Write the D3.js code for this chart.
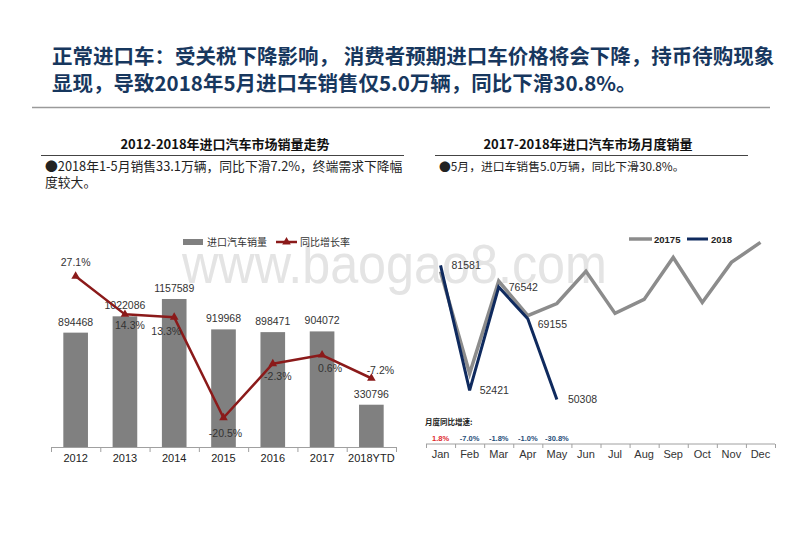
<!DOCTYPE html>
<html><head><meta charset="utf-8">
<script src="https://cdn.jsdelivr.net/npm/d3@7"></script>
<style>
html,body{margin:0;padding:0;background:#fff;}
svg{display:block;}
</style></head>
<body>
<svg id="c" width="800" height="554"></svg>
<script>
// ---------- DATA ----------
const titleLines = ["正常进口车：受关税下降影响， 消费者预期进口车价格将会下降，持币待购现象",
                    "显现，导致2018年5月进口车销售仅5.0万辆，同比下滑30.8%。"];
const leftTitle = "2012-2018年进口汽车市场销量走势";
const leftNote = ["●2018年1-5月销售33.1万辆，同比下滑7.2%，终端需求下降幅", "度较大。"];
const rightTitle = "2017-2018年进口汽车市场月度销量";
const rightNote = ["●5月，进口车销售5.0万辆，同比下滑30.8%。"];

const years = ["2012","2013","2014","2015","2016","2017","2018YTD"];
const sales = [894468, 1022086, 1157589, 919968, 898471, 904072, 330796];
const growth = [27.1, 14.3, 13.3, -20.5, -2.3, 0.6, -7.2];
const leftLegend = ["进口汽车销量", "同比增长率"];

const months = ["Jan","Feb","Mar","Apr","May","Jun","Jul","Aug","Sep","Oct","Nov","Dec"];
const sales2017 = [80139, 56367, 77945, 69854, 72700, 80200, 70400, 73650, 83450, 72950, 82300, 86950];
const sales2018 = [81581, 52421, 76542, 69155, 50308];
const rightLegend = ["20175", "2018"];
const monthGrowthTitle = "月度同比增速:";
const monthGrowth = ["1.8%", "-7.0%", "-1.8%", "-1.0%", "-30.8%"];

const watermark = "www.baogao8.com";

// ---------- DRAW ----------
const svg = d3.select("#c");
const CJK = "'Noto Sans CJK SC','Noto Sans',sans-serif";
const LAT = "'Liberation Sans',Arial,sans-serif";

// watermark
svg.append("text").attr("x", 182).attr("y", 283).text(watermark)
  .attr("font-family", LAT).attr("font-size", 55).attr("fill", "#e4e4e4")
  .attr("textLength", 425).attr("lengthAdjust", "spacingAndGlyphs");

// main title
svg.selectAll("text.title").data(titleLines).join("text")
  .attr("class","title")
  .attr("x", 52).attr("y", (d,i)=> 64 + i*27)
  .attr("font-family", CJK).attr("font-weight", 700).attr("font-size", 20.5)
  .attr("fill", "#17375e").text(d=>d);
svg.append("line").attr("x1", 32).attr("x2", 770).attr("y1", 107.5).attr("y2", 107.5)
  .attr("stroke", "#9a9a9a").attr("stroke-width", 1.5);

// sub titles
function subTitle(cx, x1, x2, title, notes, noteSize){
  svg.append("text").attr("x", cx).attr("y", 149).attr("text-anchor","middle")
    .attr("font-family", CJK).attr("font-weight", 700).attr("font-size", 13)
    .attr("fill", "#111").text(title);
  svg.append("line").attr("x1", x1).attr("x2", x2).attr("y1", 155.5).attr("y2", 155.5)
    .attr("stroke", "#444").attr("stroke-width", 1);
  svg.selectAll(null).data(notes).join("text")
    .attr("x", x1 + 4).attr("y", (d,i)=> 171 + i*16)
    .attr("font-family", CJK).attr("font-size", noteSize).attr("fill", "#222").text(d=>d);
}
subTitle(225, 41, 404, leftTitle, leftNote, 12.8);
subTitle(588, 435, 748, rightTitle, rightNote, 11.8);

// ---------- LEFT CHART ----------
const xL = d3.scaleBand().domain(years).range([51, 396]).paddingInner(0.5).paddingOuter(0.25);
const yL = d3.scaleLinear().domain([0, 1400000]).range([447, 268]);
const yG = d3.scaleLinear().domain([-30, 40]).range([446, 238]);
const gL = svg.append("g");

gL.selectAll("rect.bar").data(years).join("rect").attr("class","bar")
  .attr("x", d=>xL(d)).attr("width", xL.bandwidth())
  .attr("y", (d,i)=>yL(sales[i])).attr("height", (d,i)=>yL(0)-yL(sales[i]))
  .attr("fill", "#808080");

gL.selectAll("text.val").data(years).join("text").attr("class","val")
  .attr("x", d=>xL(d)+xL.bandwidth()/2).attr("y", (d,i)=>yL(sales[i]) - 7)
  .attr("text-anchor","middle").attr("font-family", LAT).attr("font-size", 10.5)
  .attr("fill", "#333").text((d,i)=>sales[i]);

// axis
const stepL = xL.step();
gL.append("line").attr("x1", 51).attr("x2", 396).attr("y1", 447.5).attr("y2", 447.5)
  .attr("stroke", "#a0a0a0").attr("stroke-width", 1);
gL.selectAll("line.tk").data(d3.range(years.length+1)).join("line").attr("class","tk")
  .attr("x1", i=> 51.5 + i*stepL).attr("x2", i=> 51.5 + i*stepL)
  .attr("y1", 447).attr("y2", 452).attr("stroke", "#a0a0a0");
gL.selectAll("text.xl").data(years).join("text").attr("class","xl")
  .attr("x", d=>xL(d)+xL.bandwidth()/2).attr("y", 462)
  .attr("text-anchor","middle").attr("font-family", LAT).attr("font-size", 11)
  .attr("fill", "#222").text(d=>d);

// growth line
const lineG = d3.line().x((d,i)=>xL(years[i])+xL.bandwidth()/2).y(d=>yG(d));
gL.append("path").datum(growth).attr("d", lineG).attr("fill","none")
  .attr("stroke", "#8b1a1a").attr("stroke-width", 2.5).attr("stroke-linejoin","round");
const tri = d3.symbol().type(d3.symbolTriangle).size(32);
gL.selectAll("path.mk").data(growth).join("path").attr("class","mk")
  .attr("d", tri).attr("fill", "#8b1a1a")
  .attr("transform", (d,i)=>`translate(${xL(years[i])+xL.bandwidth()/2},${yG(d)})`);
const gOff = [[0,-10],[5,15],[-8,18],[2,19],[5,16],[8,17],[9,-4]];
gL.selectAll("text.gl").data(growth).join("text").attr("class","gl")
  .attr("x", (d,i)=>xL(years[i])+xL.bandwidth()/2 + gOff[i][0])
  .attr("y", (d,i)=>yG(d) + gOff[i][1])
  .attr("text-anchor","middle").attr("font-family", LAT).attr("font-size", 10.5)
  .attr("fill", "#333").text(d=> d.toFixed(1) + "%");

// legend left
gL.append("rect").attr("x", 183).attr("y", 239).attr("width", 20).attr("height", 6).attr("fill", "#808080");
gL.append("text").attr("x", 207).attr("y", 246).attr("font-family", CJK).attr("font-size", 10)
  .attr("fill", "#333").text(leftLegend[0]);
gL.append("line").attr("x1", 276).attr("x2", 297).attr("y1", 242).attr("y2", 242)
  .attr("stroke", "#8b1a1a").attr("stroke-width", 2.5);
gL.append("path").attr("d", tri).attr("fill", "#8b1a1a").attr("transform", "translate(286.5,242)");
gL.append("text").attr("x", 300).attr("y", 246).attr("font-family", CJK).attr("font-size", 10)
  .attr("fill", "#333").text(leftLegend[1]);

// ---------- RIGHT CHART ----------
const xR = d3.scaleBand().domain(months).range([426, 775]);
const yR = d3.scaleLinear().domain([40000, 90000]).range([443.7, 229.35]);
const gR = svg.append("g");
const cx = m => xR(m) + xR.bandwidth()/2;

const lineR = d3.line().x((d,i)=>cx(months[i])).y(d=>yR(d)).curve(d3.curveLinear);
gR.append("path").datum(sales2017).attr("d", lineR).attr("fill","none")
  .attr("stroke", "#8c8c8c").attr("stroke-width", 3.5).attr("stroke-linejoin","miter");
gR.append("path").datum(sales2018).attr("d", lineR).attr("fill","none")
  .attr("stroke", "#0f2a5e").attr("stroke-width", 3).attr("stroke-linejoin","miter");

const rOff = [[11,4],[10,4],[10,4],[10,9],[11,3]];
gR.selectAll("text.rv").data(sales2018).join("text").attr("class","rv")
  .attr("x", (d,i)=>cx(months[i]) + rOff[i][0]).attr("y", (d,i)=>yR(d) + rOff[i][1])
  .attr("font-family", LAT).attr("font-size", 10.5).attr("fill", "#333").text(d=>d);

// axis right
gR.append("line").attr("x1", 426).attr("x2", 775).attr("y1", 444).attr("y2", 444)
  .attr("stroke", "#a0a0a0").attr("stroke-width", 1);
gR.selectAll("line.tk").data(d3.range(months.length+1)).join("line").attr("class","tk")
  .attr("x1", i=> 426.5 + i*xR.step()).attr("x2", i=> 426.5 + i*xR.step())
  .attr("y1", 444).attr("y2", 448).attr("stroke", "#a0a0a0");
gR.selectAll("text.xl").data(months).join("text").attr("class","xl")
  .attr("x", d=>cx(d)).attr("y", 458).attr("text-anchor","middle")
  .attr("font-family", LAT).attr("font-size", 11).attr("fill", "#333").text(d=>d);

gR.append("text").attr("x", 425).attr("y", 425).attr("font-family", CJK).attr("font-weight", 700)
  .attr("font-size", 7.5).attr("fill", "#222").text(monthGrowthTitle);
gR.selectAll("text.mg").data(monthGrowth).join("text").attr("class","mg")
  .attr("x", (d,i)=>cx(months[i])).attr("y", 441).attr("text-anchor","middle")
  .attr("font-family", LAT).attr("font-weight", 700).attr("font-size", 7.5)
  .attr("fill", (d,i)=> i===0 ? "#e0282e" : "#1f4e79").text(d=>d);

// legend right
gR.append("line").attr("x1", 629).attr("x2", 652).attr("y1", 239).attr("y2", 239)
  .attr("stroke", "#8c8c8c").attr("stroke-width", 3.5);
gR.append("text").attr("x", 654).attr("y", 242.5).attr("font-family", LAT).attr("font-weight", 700)
  .attr("font-size", 9.5).attr("fill", "#222").text(rightLegend[0]);
gR.append("line").attr("x1", 687).attr("x2", 708).attr("y1", 239).attr("y2", 239)
  .attr("stroke", "#0f2a5e").attr("stroke-width", 3);
gR.append("text").attr("x", 711).attr("y", 242.5).attr("font-family", LAT).attr("font-weight", 700)
  .attr("font-size", 9.5).attr("fill", "#222").text(rightLegend[1]);
</script>
</body></html>
